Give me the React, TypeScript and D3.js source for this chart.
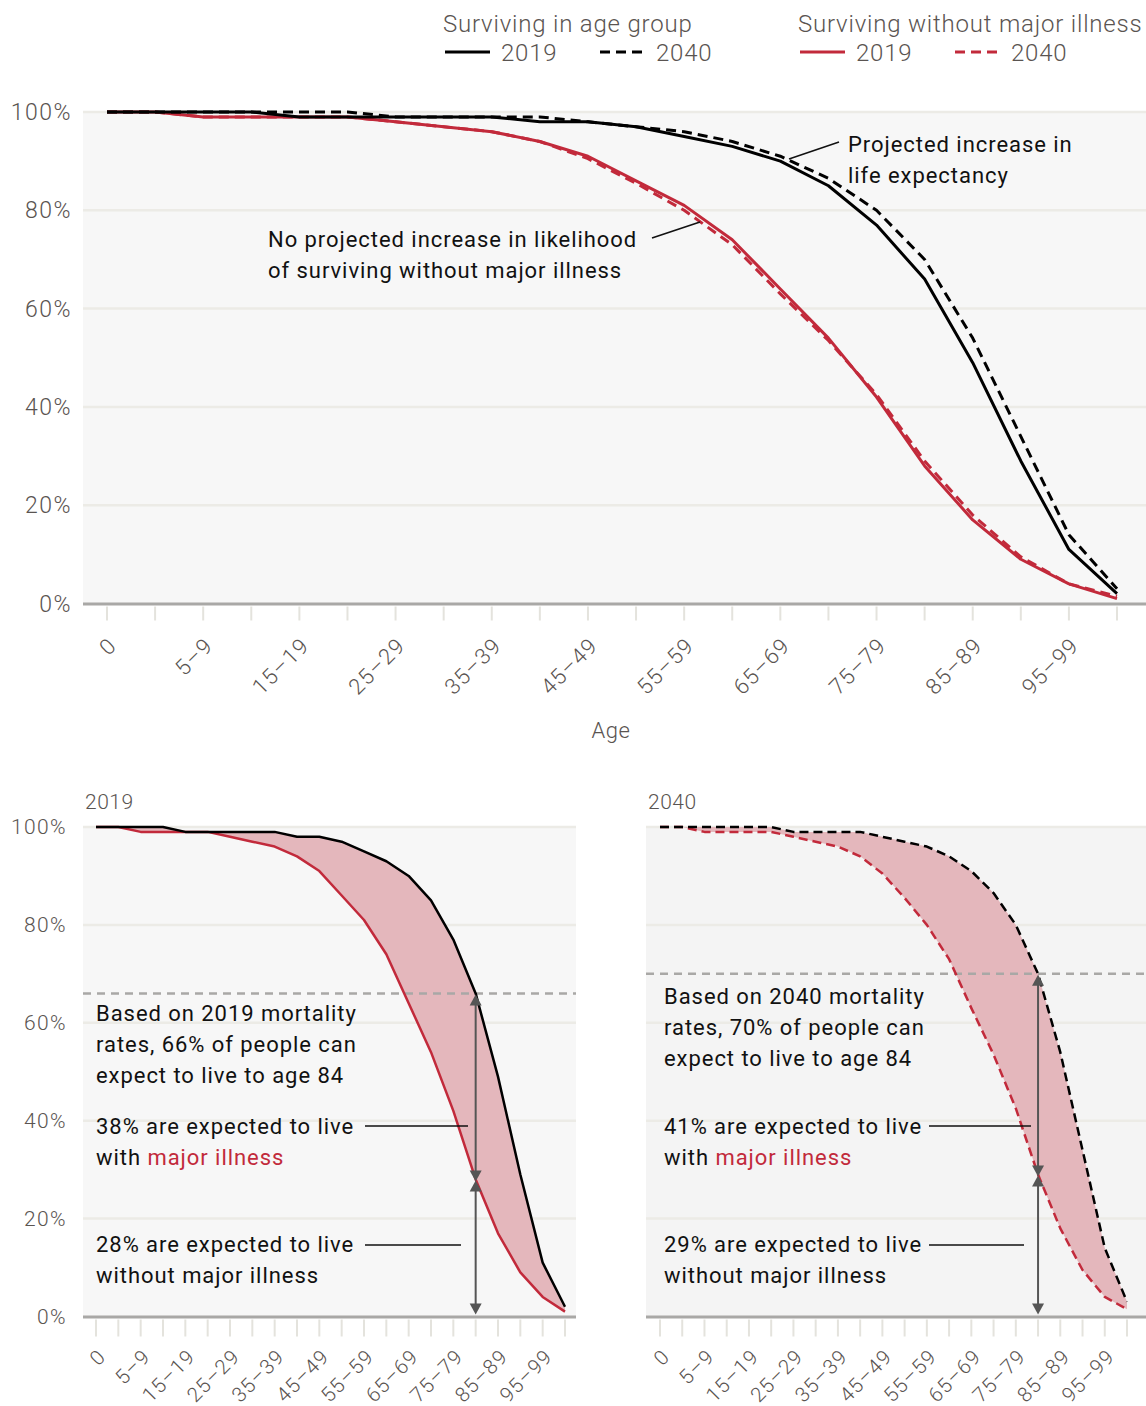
import React from 'react';
import * as d3 from 'd3';

const ageGroups = ['0', '1–4', '5–9', '10–14', '15–19', '20–24', '25–29', '30–34', '35–39', '40–44', '45–49', '50–54', '55–59', '60–64', '65–69', '70–74', '75–79', '80–84', '85–89', '90–94', '95–99', '100+'];
const surviving2019 = [100, 100, 100, 100, 99, 99, 99, 99, 99, 98, 98, 97, 95, 93, 90, 85, 77, 66, 49, 29, 11, 2];
const surviving2040 = [100, 100, 100, 100, 100, 100, 99, 99, 99, 99, 98, 97, 96, 94, 91, 86.5, 80, 70, 54, 34, 14, 3];
const healthy2019 = [100, 100, 99, 99, 99, 99, 98, 97, 96, 94, 91, 86, 81, 74, 64, 54, 42, 28, 17, 9, 4, 1];
const healthy2040 = [100, 100, 99, 99, 99, 99, 98, 97, 96, 94, 90.5, 85.5, 80, 73, 63, 53.5, 42.5, 29, 18, 9.5, 4, 1.5];
const yTicks = [0, 20, 40, 60, 80, 100];
const refAgeIndex = 17;

const RED = '#c22a3b';
const FILL = '#e4b7bc';
const LABEL = '#5a5451';
const GRID = '#ecebe6';
const LABEL_FONT = 'Roboto, sans-serif';
const ANN_FONT = 'Roboto, sans-serif';
const ANN_SIZE = 22;
const ANN_LS = 0.95;

function Lines({ x, y, values, color, dash, width }: any) {
  const line = d3.line<number>().x((_, i) => x(ageGroups[i])).y((d) => y(d));
  return <path d={line(values) || ''} fill="none" stroke={color} strokeWidth={width} strokeDasharray={dash} strokeLinejoin="round" />;
}

function XAxis({ x, y0, tickLen, labelY, fontSize, dx, ls }: any) {
  return (
    <g>
      {ageGroups.map((g, i) => (
        <line key={'t' + i} x1={x(g)} x2={x(g)} y1={y0 + 2} y2={y0 + 2 + tickLen} stroke="#e4e3dd" strokeWidth={2} />
      ))}
      {ageGroups.map((g, i) =>
        i % 2 === 0 && i < 21 ? (
          <text key={'l' + i} transform={`translate(${x(g) + dx},${labelY}) rotate(-45)`} textAnchor="end"
            fontFamily={LABEL_FONT} fontWeight={300} fontSize={fontSize} letterSpacing={ls} fill={LABEL}>{g}</text>
        ) : null
      )}
    </g>
  );
}

function Arrow({ x, yFrom, yTo }: any) {
  const h = 11, w = 6;
  return (
    <g>
      <line x1={x} x2={x} y1={yFrom + h - 1} y2={yTo - h + 1} stroke="#555" strokeWidth={2} />
      <path d={`M${x},${yFrom} L${x - w},${yFrom + h} L${x + w},${yFrom + h} Z`} fill="#555" />
      <path d={`M${x},${yTo} L${x - w},${yTo - h} L${x + w},${yTo - h} Z`} fill="#555" />
    </g>
  );
}

function SmallChart({ left, right, xStart, xEnd, title, surv, healthy, dashed, bg, showY, textX, lines }: any) {
  const x = d3.scalePoint<string>().domain(ageGroups).range([xStart, xEnd]);
  const y = d3.scaleLinear().domain([0, 100]).range([1316.5, 827]);
  const area = d3.area<number>().x((_, i) => x(ageGroups[i]) as number).y0((_, i) => y(healthy[i])).y1((d) => y(d));
  const ax = x(ageGroups[refAgeIndex]) as number;
  const top = surv[refAgeIndex];
  const mid = healthy[refAgeIndex];
  const dash = dashed ? '9,5' : undefined;
  return (
    <g>
      <text x={left + 2} y={809} fontFamily={LABEL_FONT} fontWeight={300} fontSize={21} fill={LABEL} letterSpacing={0.5}>{title}</text>
      <rect x={left} y={y(100)} width={right - left} height={y(0) - y(100)} fill={bg} />
      {yTicks.filter((t) => t > 0).map((t) => (
        <line key={t} x1={left} x2={right} y1={y(t)} y2={y(t)} stroke={GRID} strokeWidth={2.5} />
      ))}
      {showY && yTicks.map((t) => (
        <text key={'y' + t} x={67} y={y(t)} dy="0.35em" textAnchor="end" fontFamily={LABEL_FONT} fontWeight={300} fontSize={21} fill={LABEL} letterSpacing={1.4}>{t}%</text>
      ))}
      <path d={area(surv) || ''} fill={FILL} />
      <line x1={left} x2={right} y1={y(top)} y2={y(top)} stroke="#a9a8a6" strokeWidth={2.5} strokeDasharray="8,6" />
      <Lines x={x} y={y} values={healthy} color={RED} dash={dash} width={2.5} />
      <Lines x={x} y={y} values={surv} color="#000" dash={dash} width={2.5} />
      <line x1={left} x2={right} y1={y(0) + 0.5} y2={y(0) + 0.5} stroke="#a9a8a6" strokeWidth={3} />
      <XAxis x={x} y0={y(0) + 1} tickLen={17} labelY={1358} fontSize={20.5} dx={11} ls={1.1} />
      <Arrow x={ax} yFrom={y(top) + 1} yTo={y(mid) + 2} />
      <Arrow x={ax} yFrom={y(mid) + 1} yTo={y(0) - 2} />
      <g fontFamily={ANN_FONT} fontSize={ANN_SIZE} fill="#111" letterSpacing={ANN_LS}>
        {lines.base.map((s: string, k: number) => (
          <text key={'b' + k} x={textX} y={lines.baseY + k * 31}>{s}</text>
        ))}
        <text x={textX} y={1134}>{lines.withIll}</text>
        <text x={textX} y={1165}>with <tspan fill={RED}>major illness</tspan></text>
        <text x={textX} y={1252}>{lines.without}</text>
        <text x={textX} y={1283}>without major illness</text>
      </g>
      <line x1={lines.leadX} x2={lines.leadEnd1} y1={1126} y2={1126} stroke="#111" strokeWidth={1.5} />
      <line x1={lines.leadX} x2={lines.leadEnd2} y1={1245} y2={1245} stroke="#111" strokeWidth={1.5} />
    </g>
  );
}

export default function App() {
  const x = d3.scalePoint<string>().domain(ageGroups).range([107, 1117]);
  const y = d3.scaleLinear().domain([0, 100]).range([603.5, 112]);
  return (
    <svg width={1146} height={1406} style={{ position: 'absolute', left: 0, top: 0, display: 'block', background: '#fff' }}>
      {/* Legend */}
      <g fontFamily={LABEL_FONT} fontWeight={300} fontSize={24} fill={LABEL} letterSpacing={0.8}>
        <text x={443} y={32}>Surviving in age group</text>
        <line x1={445} x2={490} y1={52} y2={52} stroke="#000" strokeWidth={3} />
        <text x={501} y={61}>2019</text>
        <line x1={600} x2={642} y1={52} y2={52} stroke="#000" strokeWidth={3} strokeDasharray="10,6" />
        <text x={656} y={61}>2040</text>
        <text x={798} y={32}>Surviving without major illness</text>
        <line x1={800} x2={845} y1={52} y2={52} stroke={RED} strokeWidth={3} />
        <text x={856} y={61}>2019</text>
        <line x1={955} x2={997} y1={52} y2={52} stroke={RED} strokeWidth={3} strokeDasharray="10,6" />
        <text x={1011} y={61}>2040</text>
      </g>

      {/* Top chart */}
      <rect x={83} y={y(100) - 1} width={1146 - 83} height={y(0) - y(100) + 1} fill="#f7f7f7" />
      {yTicks.filter((t) => t > 0).map((t) => (
        <line key={t} x1={83} x2={1146} y1={y(t)} y2={y(t)} stroke={GRID} strokeWidth={2.5} />
      ))}
      {yTicks.map((t) => (
        <text key={'y' + t} x={72} y={y(t)} dy="0.35em" textAnchor="end" fontFamily={LABEL_FONT} fontWeight={300} fontSize={23} fill={LABEL} letterSpacing={1.5}>{t}%</text>
      ))}
      <Lines x={x} y={y} values={healthy2019} color={RED} width={3} />
      <Lines x={x} y={y} values={healthy2040} color={RED} dash="10,6" width={3} />
      <Lines x={x} y={y} values={surviving2019} color="#000" width={3} />
      <Lines x={x} y={y} values={surviving2040} color="#000" dash="10,6" width={3} />
      <line x1={83} x2={1146} y1={y(0) + 0.5} y2={y(0) + 0.5} stroke="#a9a8a6" strokeWidth={3} />
      <XAxis x={x} y0={y(0) + 1} tickLen={14} labelY={647} fontSize={22} dx={11} ls={1.2} />
      <text x={611} y={738} textAnchor="middle" fontFamily={LABEL_FONT} fontWeight={300} fontSize={22} fill={LABEL} letterSpacing={0.5}>Age</text>

      <g fontFamily={ANN_FONT} fontSize={ANN_SIZE} fill="#111" letterSpacing={ANN_LS}>
        <text x={848} y={152}>Projected increase in</text>
        <text x={848} y={183}>life expectancy</text>
        <text x={268} y={247}>No projected increase in likelihood</text>
        <text x={268} y={278}>of surviving without major illness</text>
      </g>
      <line x1={839} x2={789} y1={142} y2={159} stroke="#111" strokeWidth={1.5} />
      <line x1={652} x2={700} y1={238} y2={222} stroke="#111" strokeWidth={1.5} />

      <SmallChart left={83} right={576} xStart={96} xEnd={565} title="2019" surv={surviving2019} healthy={healthy2019}
        dashed={false} bg="#f7f7f7" showY={true} textX={96}
        lines={{ base: ['Based on 2019 mortality', 'rates, 66% of people can', 'expect to live to age 84'], baseY: 1021,
          withIll: '38% are expected to live', without: '28% are expected to live', leadX: 365, leadEnd1: 468, leadEnd2: 461 }} />
      <SmallChart left={646} right={1146} xStart={660} xEnd={1127} title="2040" surv={surviving2040} healthy={healthy2040}
        dashed={true} bg="#f4f4f4" showY={false} textX={664}
        lines={{ base: ['Based on 2040 mortality', 'rates, 70% of people can', 'expect to live to age 84'], baseY: 1004,
          withIll: '41% are expected to live', without: '29% are expected to live', leadX: 929, leadEnd1: 1031, leadEnd2: 1024 }} />
    </svg>
  );
}
